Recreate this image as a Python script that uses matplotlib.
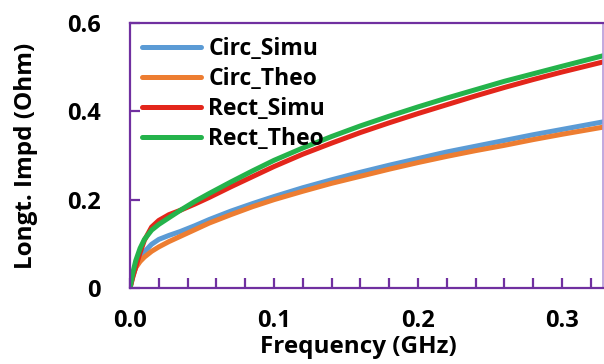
import matplotlib
matplotlib.use("Agg")
import matplotlib.pyplot as plt
from matplotlib.ticker import MultipleLocator, FixedLocator

plt.rcParams['font.family'] = ['Open Sans', 'DejaVu Sans']

freq = [0, 0.002, 0.004, 0.007, 0.01, 0.015, 0.02, 0.027, 0.035, 0.045, 0.055,
        0.07, 0.085, 0.10, 0.12, 0.14, 0.16, 0.18, 0.20, 0.22, 0.24, 0.26,
        0.28, 0.30, 0.33]

circ_simu = [0, 0.027, 0.047, 0.067, 0.082, 0.099, 0.110, 0.119, 0.128, 0.141,
             0.155, 0.174, 0.191, 0.207, 0.227, 0.245, 0.262, 0.278, 0.293,
             0.308, 0.321, 0.334, 0.347, 0.359, 0.377]
circ_theo = [0, 0.030, 0.046, 0.060, 0.070, 0.083, 0.093, 0.105, 0.117, 0.132,
             0.147, 0.166, 0.184, 0.200, 0.219, 0.237, 0.253, 0.269, 0.284,
             0.298, 0.311, 0.323, 0.336, 0.348, 0.365]
rect_simu = [0, 0.025, 0.048, 0.080, 0.108, 0.138, 0.153, 0.166, 0.176, 0.190,
             0.205, 0.229, 0.252, 0.275, 0.303, 0.328, 0.352, 0.374, 0.395,
             0.415, 0.435, 0.454, 0.472, 0.489, 0.513]
rect_theo = [0, 0.035, 0.062, 0.090, 0.110, 0.131, 0.144, 0.159, 0.176, 0.196,
             0.214, 0.240, 0.265, 0.289, 0.317, 0.343, 0.367, 0.389, 0.410,
             0.430, 0.449, 0.468, 0.485, 0.502, 0.527]

series_names = ['Circ_Simu', 'Circ_Theo', 'Rect_Simu', 'Rect_Theo']
series_vals = [circ_simu, circ_theo, rect_simu, rect_theo]
colors = ['#5B9BD5', '#ED7D31', '#E3261B', '#24B34B']

xticks = [0.0, 0.1, 0.2, 0.3]
xtick_labels = ['0.0', '0.1', '0.2', '0.3']
yticks = [0, 0.2, 0.4, 0.6]
ytick_labels = ['0', '0.2', '0.4', '0.6']

fig = plt.figure(figsize=(6.04, 3.64), dpi=100)
ax = fig.add_axes([130/604, (364-288)/364, (603-130)/604, (288-23)/364])

for name, vals, c in zip(series_names, series_vals, colors):
    ax.plot(freq, vals, color=c, lw=3.6, label=name, solid_capstyle='round')

ax.set_xlim(0, 0.3285)
ax.set_ylim(0, 0.6)

purple = '#7030A0'
for s in ax.spines.values():
    s.set_color(purple)
    s.set_linewidth(1.6)
ax.spines['right'].set_color('#B89AD8')
ax.spines['right'].set_linewidth(1.2)

ax.xaxis.set_major_locator(FixedLocator(xticks))
ax.set_xticklabels(xtick_labels)
ax.xaxis.set_minor_locator(MultipleLocator(0.02))
ax.yaxis.set_major_locator(FixedLocator(yticks))
ax.set_yticklabels(ytick_labels)

ax.tick_params(axis='x', which='both', direction='in', length=7, width=1.6,
               color=purple, pad=15, labelsize=17, top=False)
ax.tick_params(axis='y', which='major', direction='in', length=7, width=1.6,
               color=purple, pad=21, labelsize=17, right=False)
for lab in ax.get_xticklabels() + ax.get_yticklabels():
    lab.set_fontweight('bold')

ax.set_xlabel('Frequency (GHz)', fontsize=17.5, fontweight='bold')
ax.set_ylabel('Longt. Impd (Ohm)', fontsize=17.5, fontweight='bold')
ax.xaxis.set_label_coords(0.483, -0.178)
ax.yaxis.set_label_coords(-0.195, 0.500)

leg = ax.legend(loc='upper left', bbox_to_anchor=(0.025, 0.948), frameon=False,
                prop={'weight': 'bold', 'size': 16.5}, handlelength=2.6,
                handletextpad=0.3, labelspacing=0.26, borderaxespad=0.0,
                borderpad=0.0)

fig.savefig('out.png', dpi=100)
